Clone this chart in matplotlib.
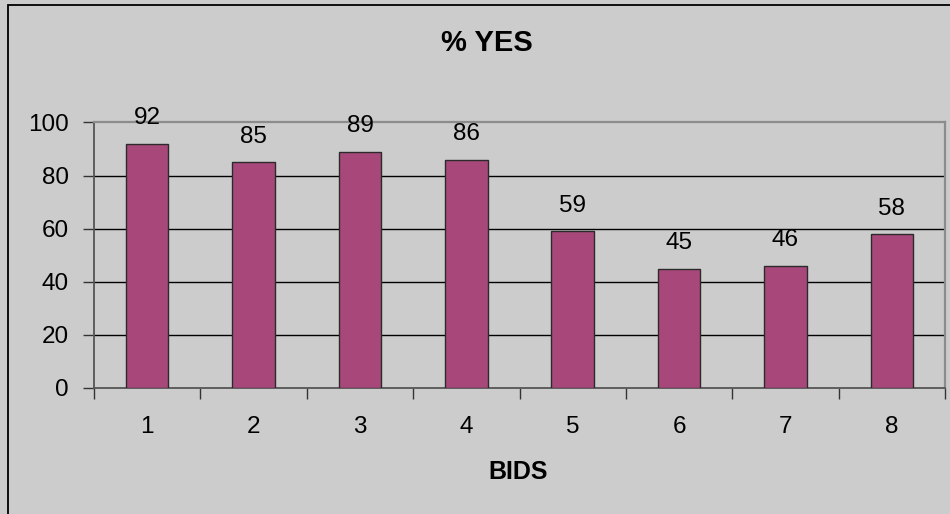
import matplotlib
matplotlib.use("Agg")
import matplotlib.pyplot as plt
from matplotlib.patches import Rectangle

# ---- data ----
bids = [1, 2, 3, 4, 5, 6, 7, 8]
pct_yes = [92, 85, 89, 86, 59, 45, 46, 58]
y_ticks = [0, 20, 40, 60, 80, 100]

BG = "#cccccc"
BAR = "#a8487a"

plt.rcParams["font.family"] = ["Liberation Sans", "DejaVu Sans"]

fig = plt.figure(figsize=(9.5, 5.14), dpi=100, facecolor=BG)

# chart area border (runs off the right and bottom edge of the picture)
W, H = 950, 514
fig.patches.append(Rectangle((8 / W, -0.05), 1.1, 1 - 5 / H + 0.05,
                             transform=fig.transFigure, fill=False,
                             edgecolor="black", linewidth=1.3, zorder=0))

ax = fig.add_axes([94 / W, 1 - 388 / H, (945 - 94) / W, (388 - 122.5) / H])
ax.set_facecolor(BG)

bars = ax.bar(bids, pct_yes, width=0.4, color=BAR, edgecolor="#2a2a2a",
              linewidth=1.0, zorder=3)
for x, v in zip(bids, pct_yes):
    ax.annotate(str(v), (x, v), xytext=(0, 14), textcoords="offset points",
                ha="center", va="baseline", fontsize=17.5)

ax.set_xlim(0.5, 8.5)
ax.set_ylim(0, 100)
ax.set_yticks(y_ticks)
ax.set_xticks(bids)
ax.set_xticks([b + 0.5 for b in [0] + bids], minor=True)

# gridlines (the 100 line is the plot-area border)
for y in y_ticks[1:-1]:
    ax.axhline(y, color="black", linewidth=1.0, zorder=1)

for side in ["top", "right"]:
    ax.spines[side].set_color("#8c8c8c")
    ax.spines[side].set_linewidth(1.6)
for side in ["left", "bottom"]:
    ax.spines[side].set_color("#555555")
    ax.spines[side].set_linewidth(1.3)

ax.tick_params(axis="y", direction="out", length=8, width=1.0,
               color="#333333", labelsize=17.5, pad=10)
ax.tick_params(axis="x", which="major", length=0, labelsize=17.5, pad=20)
ax.tick_params(axis="x", which="minor", direction="out", length=8,
               width=1.0, color="#333333")

fig.text(487 / W, 1 - 43 / H, "% YES", ha="center", va="center",
         fontsize=21, fontweight="bold")
fig.text(518 / W, 1 - 472 / H, "BIDS", ha="center", va="center",
         fontsize=18, fontweight="bold")

fig.savefig("out.png", dpi=100, facecolor=BG)
